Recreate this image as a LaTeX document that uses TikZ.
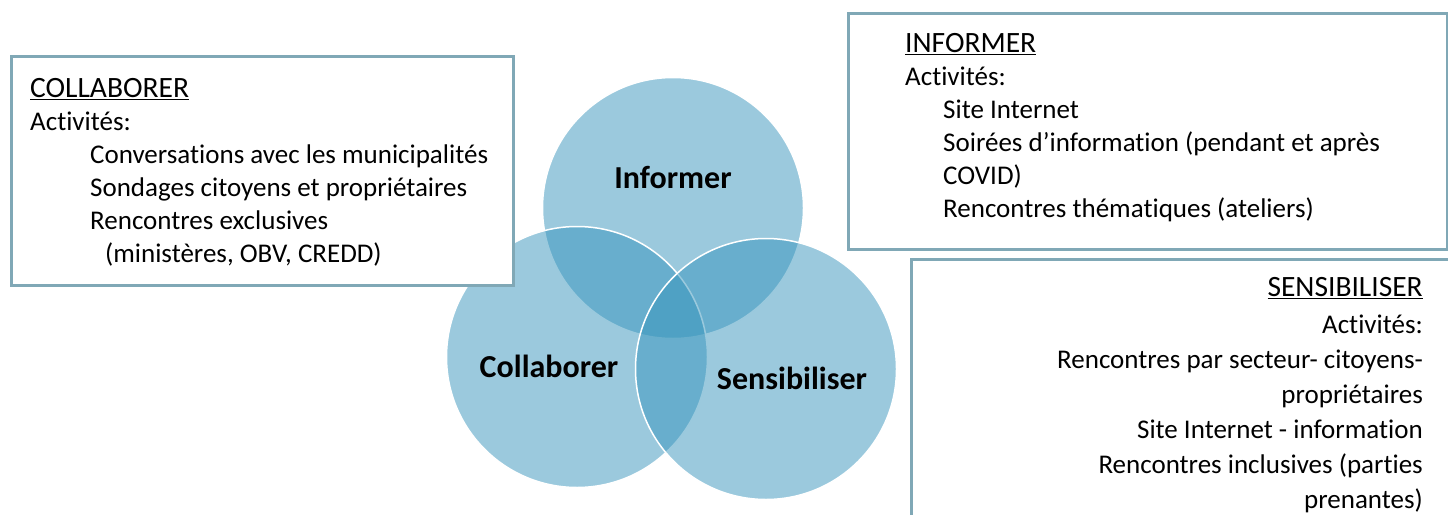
\documentclass[tikz,border=0pt]{standalone}
\usepackage{fontspec}
\setmainfont{Carlito}[Ligatures=NoCommon]
\usetikzlibrary{positioning}
\definecolor{vennblue}{RGB}{55,148,188}
\definecolor{boxline}{RGB}{128,168,182}
\newcommand{\boxhead}[1]{{\fontsize{29.5}{33}\selectfont\underline{#1}}}
\tikzset{
   vennset/.style={circle, fill=vennblue, fill opacity=0.5, draw=white, line width=1.5pt, minimum size=261pt, inner sep=0pt},
   vennlabel/.style={font=\fontsize{32}{38}\selectfont\bfseries, inner sep=0pt},
   infobox/.style={draw=boxline, fill=white, line width=2.5pt, anchor=north west, inner sep=0pt},
   boxtext/.style={font=\fontsize{27}{33}\selectfont, inner sep=0pt, anchor=north west, align=left}
}
\begin{document}
\begin{tikzpicture}[x=1pt,y=-1pt]
   \useasboundingbox (0,0) rectangle (1448,514);

   % the three sets
   \node[vennset] (informer) at (673,208) {};
   \node[vennset] (collab) at (577,357) {};
   \node[vennset] (sensi) at (766,369) {};
   \node[vennlabel] (informerlabel) at (673,177) {Informer};
   \node[vennlabel] (collablabel) at (549,366) {Collaborer};
   \node[vennlabel] (sensilabel) at (792,378) {Sensibiliser};

   % activity boxes
   \node[infobox, minimum width=502pt, minimum height=229pt] (collabbox) at (10,55) {};
   \node[infobox, minimum width=599pt, minimum height=236pt] (informerbox) at (847,12) {};
   \node[infobox, minimum width=560pt, minimum height=300pt] (sensibox) at (910,258) {};

   \node[boxtext] (collabtext) at (30,78) {\boxhead{COLLABORER}\\
      Activités:\\
      \hspace*{60pt}Conversations avec les municipalités\\
      \hspace*{60pt}Sondages citoyens et propriétaires\\
      \hspace*{60pt}Rencontres exclusives\\
      \hspace*{75pt}(ministères, OBV, CREDD)};
   \node[boxtext] (informertext) at (905,33) {\boxhead{INFORMER}\\
      Activités:\\
      \hspace*{38pt}Site Internet\\
      \hspace*{38pt}Soirées d’information (pendant et après\\
      \hspace*{38pt}COVID)\\
      \hspace*{38pt}Rencontres thématiques (ateliers)};
   \node[boxtext, font=\fontsize{27}{35}\selectfont, anchor=north east, align=right] (sensitext) at (1423,277) {\boxhead{SENSIBILISER}\\[2pt]
      Activités:\\
      Rencontres par secteur- citoyens-\\
      propriétaires\\
      Site Internet - information\\
      Rencontres inclusives (parties\\
      prenantes)};
\end{tikzpicture}
\end{document}
